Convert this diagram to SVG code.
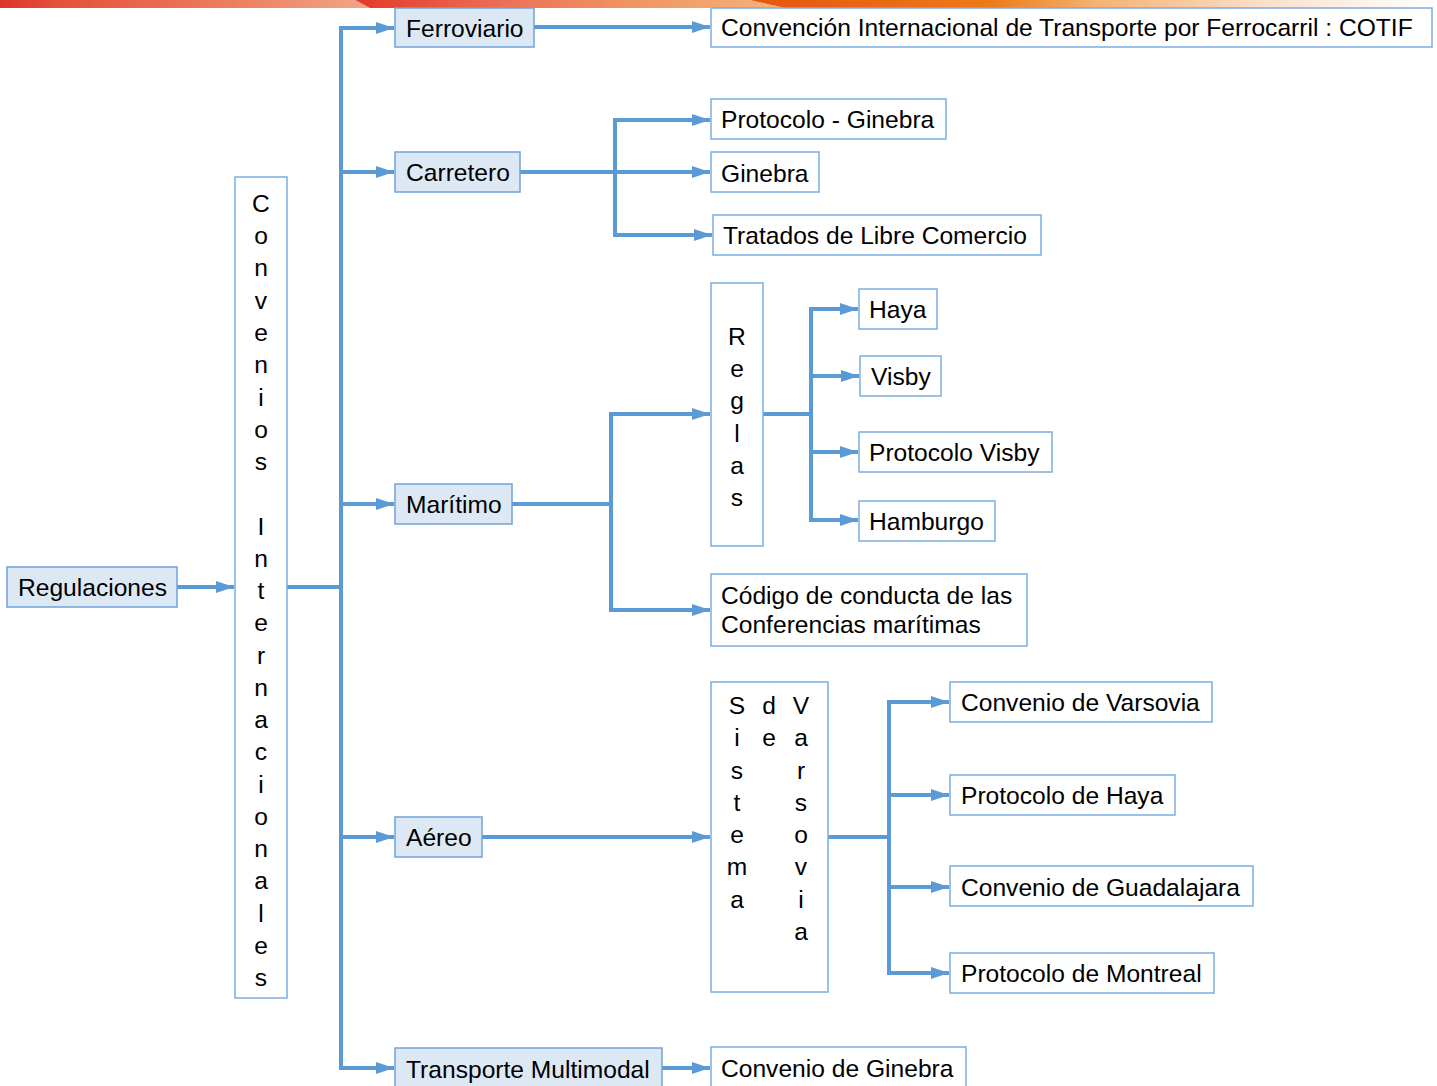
<svg xmlns="http://www.w3.org/2000/svg" width="1437" height="1086" viewBox="0 0 1437 1086">
  <defs>
    <linearGradient id="band1" x1="0" y1="0" x2="1" y2="0">
      <stop offset="0" stop-color="#dc3528"/>
      <stop offset="0.15" stop-color="#e4503a"/>
      <stop offset="0.6" stop-color="#ec7c5c"/>
      <stop offset="1" stop-color="#f2a488"/>
    </linearGradient>
    <linearGradient id="band2" x1="0" y1="0" x2="1" y2="0">
      <stop offset="0" stop-color="#e43a28"/>
      <stop offset="0.35" stop-color="#ec7058"/>
      <stop offset="0.6" stop-color="#ef9060"/>
      <stop offset="1" stop-color="#f5b47a"/>
    </linearGradient>
    <linearGradient id="band3" x1="0" y1="0" x2="1" y2="0">
      <stop offset="0" stop-color="#e65510"/>
      <stop offset="0.35" stop-color="#ee7a18"/>
      <stop offset="0.5" stop-color="#f6b070"/>
      <stop offset="0.75" stop-color="#fbe0cc"/>
      <stop offset="1" stop-color="#ffffff"/>
    </linearGradient>
    <marker id="arrow" viewBox="0 0 18 12" refX="18" refY="6" markerWidth="18" markerHeight="12" markerUnits="userSpaceOnUse" orient="auto">
      <path d="M0,0 L18,6 L0,12 z" fill="#5b9bd5"/>
    </marker>
    <style>
      .box { fill: #ffffff; stroke: #7aaee0; stroke-width: 1.5; }
      .cat { fill: #dde8f5; stroke: #6fa3d8; stroke-width: 1.5; }
      .lbl { font-family: "Liberation Sans", Arial, sans-serif; font-size: 24.6px; fill: #000000; }
      .vert { font-family: "Liberation Sans", Arial, sans-serif; font-size: 24.6px; fill: #000000; text-anchor: middle; }
      .wire { fill: none; stroke: #5b9bd5; stroke-width: 4; }
      .arr { fill: none; stroke: #5b9bd5; stroke-width: 4; marker-end: url(#arrow); }
    </style>
  </defs>

  <!-- decorative header band -->
  <g id="header">
    <rect x="0" y="0" width="1437" height="8" fill="#ffffff"/>
    <polygon points="0,0 355,0 370,8 0,8" fill="url(#band1)"/>
    <polygon points="355,0 750,0 785,8 370,8" fill="url(#band2)"/>
    <polygon points="750,0 1437,0 1437,8 785,8" fill="url(#band3)"/>
  </g>

  <!-- connectors -->
  <g id="connectors">
    <line class="arr" x1="177" y1="587" x2="234" y2="587"/>
    <line class="wire" x1="287" y1="587" x2="343" y2="587"/>
    <line class="wire" x1="341" y1="26" x2="341" y2="1070"/>
    <line class="arr" x1="339" y1="28" x2="394" y2="28"/>
    <line class="arr" x1="339" y1="172" x2="394" y2="172"/>
    <line class="arr" x1="339" y1="504" x2="394" y2="504"/>
    <line class="arr" x1="339" y1="837" x2="394" y2="837"/>
    <line class="arr" x1="339" y1="1068" x2="394" y2="1068"/>

    <!-- Ferroviario -->
    <line class="arr" x1="534" y1="27" x2="710" y2="27"/>

    <!-- Carretero -->
    <line class="arr" x1="520" y1="172" x2="710" y2="172"/>
    <line class="wire" x1="615" y1="118" x2="615" y2="237"/>
    <line class="arr" x1="613" y1="120" x2="710" y2="120"/>
    <line class="arr" x1="613" y1="235" x2="712" y2="235"/>

    <!-- Maritimo -->
    <line class="wire" x1="512" y1="504" x2="613" y2="504"/>
    <line class="wire" x1="611" y1="412" x2="611" y2="612"/>
    <line class="arr" x1="609" y1="414" x2="710" y2="414"/>
    <line class="arr" x1="609" y1="610" x2="710" y2="610"/>

    <!-- Reglas -->
    <line class="wire" x1="763" y1="414" x2="813" y2="414"/>
    <line class="wire" x1="811" y1="307" x2="811" y2="522"/>
    <line class="arr" x1="809" y1="309" x2="858" y2="309"/>
    <line class="arr" x1="809" y1="376" x2="859" y2="376"/>
    <line class="arr" x1="809" y1="452" x2="858" y2="452"/>
    <line class="arr" x1="809" y1="520" x2="858" y2="520"/>

    <!-- Aereo -->
    <line class="arr" x1="482" y1="837" x2="710" y2="837"/>
    <line class="wire" x1="828" y1="837" x2="891" y2="837"/>
    <line class="wire" x1="889" y1="700" x2="889" y2="975"/>
    <line class="arr" x1="887" y1="702" x2="949" y2="702"/>
    <line class="arr" x1="887" y1="795" x2="949" y2="795"/>
    <line class="arr" x1="887" y1="887" x2="949" y2="887"/>
    <line class="arr" x1="887" y1="973" x2="949" y2="973"/>

    <!-- Multimodal -->
    <line class="arr" x1="662" y1="1068" x2="710" y2="1068"/>
  </g>

  <!-- root -->
  <g id="n-regulaciones">
    <rect class="cat" x="7" y="567" width="170" height="40"/>
    <text class="lbl" x="18" y="596">Regulaciones</text>
  </g>

  <g id="n-convenios">
    <rect class="box" x="235" y="177" width="52" height="821"/>
    <text class="vert"><tspan x="261" y="212">C</tspan><tspan x="261" y="244">o</tspan><tspan x="261" y="276">n</tspan><tspan x="261" y="309">v</tspan><tspan x="261" y="341">e</tspan><tspan x="261" y="373">n</tspan><tspan x="261" y="406">i</tspan><tspan x="261" y="438">o</tspan><tspan x="261" y="470">s</tspan><tspan x="261" y="535">I</tspan><tspan x="261" y="567">n</tspan><tspan x="261" y="599">t</tspan><tspan x="261" y="631">e</tspan><tspan x="261" y="664">r</tspan><tspan x="261" y="696">n</tspan><tspan x="261" y="728">a</tspan><tspan x="261" y="760">c</tspan><tspan x="261" y="793">i</tspan><tspan x="261" y="825">o</tspan><tspan x="261" y="857">n</tspan><tspan x="261" y="889">a</tspan><tspan x="261" y="922">l</tspan><tspan x="261" y="954">e</tspan><tspan x="261" y="986">s</tspan></text>
  </g>

  <!-- transport modes -->
  <g id="n-ferroviario">
    <rect class="cat" x="395" y="8" width="139" height="39"/>
    <text class="lbl" x="406" y="37">Ferroviario</text>
  </g>
  <g id="n-carretero">
    <rect class="cat" x="395" y="152" width="125" height="40"/>
    <text class="lbl" x="406" y="181">Carretero</text>
  </g>
  <g id="n-maritimo">
    <rect class="cat" x="395" y="484" width="117" height="40"/>
    <text class="lbl" x="406" y="513">Marítimo</text>
  </g>
  <g id="n-aereo">
    <rect class="cat" x="395" y="817" width="87" height="40"/>
    <text class="lbl" x="406" y="846">Aéreo</text>
  </g>
  <g id="n-multimodal">
    <rect class="cat" x="395" y="1048" width="267" height="42"/>
    <text class="lbl" x="406" y="1078">Transporte Multimodal</text>
  </g>

  <!-- railway -->
  <g id="n-cotif">
    <rect class="box" x="711" y="8" width="721" height="39"/>
    <text class="lbl" x="721" y="36">Convención Internacional de Transporte por Ferrocarril : COTIF</text>
  </g>

  <!-- road -->
  <g id="n-protocolo-ginebra">
    <rect class="box" x="711" y="99" width="235" height="40"/>
    <text class="lbl" x="721" y="128">Protocolo - Ginebra</text>
  </g>
  <g id="n-ginebra">
    <rect class="box" x="711" y="152" width="108" height="40"/>
    <text class="lbl" x="721" y="182">Ginebra</text>
  </g>
  <g id="n-tratados">
    <rect class="box" x="713" y="215" width="328" height="40"/>
    <text class="lbl" x="723" y="244">Tratados de Libre Comercio</text>
  </g>

  <!-- maritime -->
  <g id="n-reglas">
    <rect class="box" x="711" y="283" width="52" height="263"/>
    <text class="vert"><tspan x="737" y="345">R</tspan><tspan x="737" y="377">e</tspan><tspan x="737" y="409">g</tspan><tspan x="737" y="442">l</tspan><tspan x="737" y="474">a</tspan><tspan x="737" y="506">s</tspan></text>
  </g>
  <g id="n-haya">
    <rect class="box" x="859" y="289" width="78" height="40"/>
    <text class="lbl" x="869" y="318">Haya</text>
  </g>
  <g id="n-visby">
    <rect class="box" x="860" y="356" width="81" height="40"/>
    <text class="lbl" x="871" y="385">Visby</text>
  </g>
  <g id="n-protocolo-visby">
    <rect class="box" x="859" y="432" width="193" height="40"/>
    <text class="lbl" x="869" y="461">Protocolo Visby</text>
  </g>
  <g id="n-hamburgo">
    <rect class="box" x="859" y="501" width="136" height="40"/>
    <text class="lbl" x="869" y="530">Hamburgo</text>
  </g>
  <g id="n-codigo">
    <rect class="box" x="711" y="574" width="316" height="72"/>
    <text class="lbl" x="721" y="604">Código de conducta de las</text>
    <text class="lbl" x="721" y="633">Conferencias marítimas</text>
  </g>

  <!-- air -->
  <g id="n-varsovia">
    <rect class="box" x="711" y="682" width="117" height="310"/>
    <text class="vert"><tspan x="737" y="714">S</tspan><tspan x="737" y="746">i</tspan><tspan x="737" y="779">s</tspan><tspan x="737" y="811">t</tspan><tspan x="737" y="843">e</tspan><tspan x="737" y="875">m</tspan><tspan x="737" y="908">a</tspan></text>
    <text class="vert"><tspan x="769" y="714">d</tspan><tspan x="769" y="746">e</tspan></text>
    <text class="vert"><tspan x="801" y="714">V</tspan><tspan x="801" y="746">a</tspan><tspan x="801" y="779">r</tspan><tspan x="801" y="811">s</tspan><tspan x="801" y="843">o</tspan><tspan x="801" y="875">v</tspan><tspan x="801" y="908">i</tspan><tspan x="801" y="940">a</tspan></text>
  </g>
  <g id="n-conv-varsovia">
    <rect class="box" x="950" y="682" width="262" height="40"/>
    <text class="lbl" x="961" y="711">Convenio de Varsovia</text>
  </g>
  <g id="n-prot-haya">
    <rect class="box" x="950" y="775" width="225" height="40"/>
    <text class="lbl" x="961" y="804">Protocolo de Haya</text>
  </g>
  <g id="n-guadalajara">
    <rect class="box" x="950" y="866" width="303" height="40"/>
    <text class="lbl" x="961" y="896">Convenio de Guadalajara</text>
  </g>
  <g id="n-montreal">
    <rect class="box" x="950" y="953" width="264" height="40"/>
    <text class="lbl" x="961" y="982">Protocolo de Montreal</text>
  </g>

  <!-- multimodal -->
  <g id="n-conv-ginebra">
    <rect class="box" x="711" y="1047" width="255" height="43"/>
    <text class="lbl" x="721" y="1077">Convenio de Ginebra</text>
  </g>
</svg>
